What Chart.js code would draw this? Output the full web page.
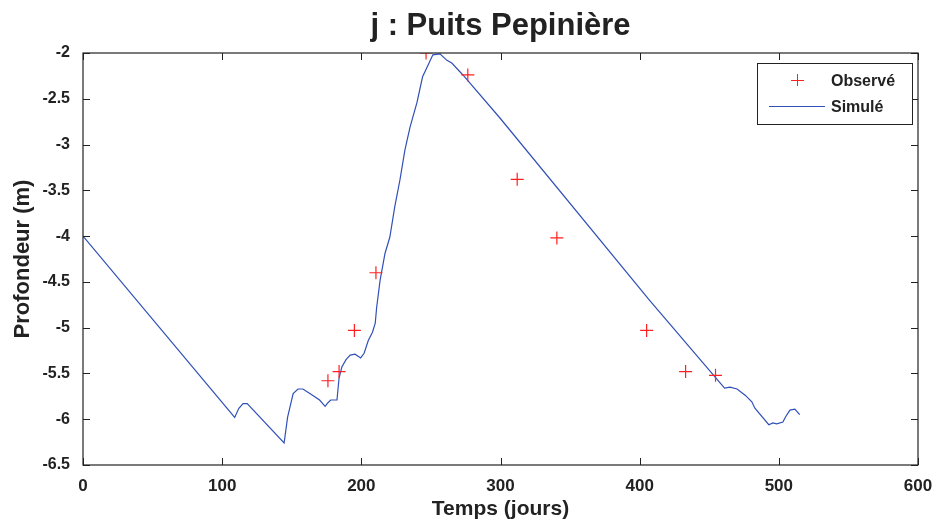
<!DOCTYPE html>
<html>
<head>
<meta charset="utf-8">
<script src="https://cdn.jsdelivr.net/npm/chart.js@4.4.0/dist/chart.umd.min.js"></script>
<style>
  body { margin: 0; background: #fff; }
  #wrap { width: 937px; height: 526px; }
</style>
</head>
<body>
<div id="wrap"><canvas id="puits"></canvas></div>
<script>
// observed depths (days, metres)
var obsDays  = [176, 184, 195, 210.5, 246.5, 276.5, 312, 340.5, 405, 433, 454.5];
var obsDepth = [-5.58, -5.48, -5.03, -4.40, -2.00, -2.24, -3.38, -4.02, -5.03, -5.48, -5.52];

// simulated curve
var simDays  = [0, 109, 112, 115, 118, 144.5, 147, 151, 154.5, 158, 163, 170, 174, 176, 178, 182.5,
                184, 186, 189, 192, 195.5, 199.5, 202, 205, 208, 210, 211, 213.5, 217, 220.5, 224,
                227.7, 231.3, 235, 240, 244, 248, 251.4, 256.5, 261.5, 265, 273, 299.6, 407, 461,
                465, 470, 476, 480.6, 482.8, 492.8, 495.7, 498.5, 502.9, 505, 508, 511.5, 515];
var simDepth = [-4.00, -5.98, -5.88, -5.83, -5.83, -6.26, -5.98, -5.72, -5.67, -5.67, -5.72, -5.79, -5.86, -5.82, -5.79, -5.79,
                -5.55, -5.43, -5.35, -5.30, -5.29, -5.33, -5.28, -5.14, -5.05, -4.95, -4.78, -4.48, -4.19, -4.01, -3.68,
                -3.39, -3.06, -2.81, -2.54, -2.26, -2.13, -2.02, -2.01, -2.08, -2.11, -2.24, -2.71, -4.70, -5.66,
                -5.65, -5.67, -5.74, -5.81, -5.88, -6.06, -6.04, -6.05, -6.03, -5.97, -5.90, -5.89, -5.95];

var xTicks = [0, 100, 200, 300, 400, 500, 600];
var yTicks = [-2, -2.5, -3, -3.5, -4, -4.5, -5, -5.5, -6, -6.5];

var obsColor = '#ff2020';
var simColor = '#3050b8';
var fontName = '"Liberation Sans", Arial, sans-serif';

function pairs(xs, ys) {
  return xs.map(function (x, i) { return {x: x, y: ys[i]}; });
}

// matlab style box with inward ticks, title over the axes, legend inside
var boxPlugin = {
  id: 'box',
  afterDraw: function (chart) {
    var ctx = chart.ctx, a = chart.chartArea;
    var xs = chart.scales.x, ys = chart.scales.y;
    ctx.save();
    ctx.strokeStyle = '#222';
    ctx.lineWidth = 1.2;
    ctx.strokeRect(a.left, a.top, a.right - a.left, a.bottom - a.top);
    ctx.lineWidth = 1;
    ctx.beginPath();
    xTicks.forEach(function (v) {
      var px = Math.round(xs.getPixelForValue(v)) + 0.5;
      ctx.moveTo(px, a.bottom); ctx.lineTo(px, a.bottom - 7);
      ctx.moveTo(px, a.top); ctx.lineTo(px, a.top + 7);
    });
    yTicks.forEach(function (v) {
      var py = Math.round(ys.getPixelForValue(v)) + 0.5;
      ctx.moveTo(a.left, py); ctx.lineTo(a.left + 7, py);
      ctx.moveTo(a.right, py); ctx.lineTo(a.right - 7, py);
    });
    ctx.stroke();

    // title
    ctx.fillStyle = '#222';
    ctx.font = 'bold 31px ' + fontName;
    ctx.textAlign = 'center';
    ctx.textBaseline = 'alphabetic';
    ctx.fillText('j : Puits Pepinière', (a.left + a.right) / 2, 35);

    // legend
    var lx = a.right - 161, ly = a.top + 10, lw = 155, lh = 61;
    ctx.fillStyle = '#fff';
    ctx.fillRect(lx, ly, lw, lh);
    ctx.strokeStyle = '#222';
    ctx.strokeRect(lx + 0.5, ly + 0.5, lw, lh);
    ctx.strokeStyle = obsColor;
    ctx.beginPath();
    ctx.moveTo(lx + 40.5, ly + 11); ctx.lineTo(lx + 40.5, ly + 23);
    ctx.moveTo(lx + 34, ly + 17.5); ctx.lineTo(lx + 47, ly + 17.5);
    ctx.stroke();
    ctx.strokeStyle = simColor;
    ctx.beginPath();
    ctx.moveTo(lx + 12, ly + 43.5); ctx.lineTo(lx + 68, ly + 43.5);
    ctx.stroke();
    ctx.fillStyle = '#222';
    ctx.font = 'bold 16px ' + fontName;
    ctx.textAlign = 'left';
    ctx.textBaseline = 'middle';
    ctx.fillText('Observé', lx + 74, ly + 19);
    ctx.fillText('Simulé', lx + 74, ly + 45);
    ctx.restore();
  }
};

var ctx_puits = document.getElementById('puits').getContext('2d');
var puitsChart = new Chart(ctx_puits, {
  type: 'scatter',
  data: {
    datasets: [
      {
        label: 'Observé',
        data: pairs(obsDays, obsDepth),
        pointStyle: 'cross',
        pointRadius: 6.5,
        borderColor: obsColor,
        borderWidth: 1.2,
        showLine: false
      },
      {
        label: 'Simulé',
        data: pairs(simDays, simDepth),
        showLine: true,
        borderColor: simColor,
        borderWidth: 1.2,
        pointRadius: 0,
        tension: 0
      }
    ]
  },
  options: {
    responsive: true,
    maintainAspectRatio: false,
    animation: false,
    layout: { padding: { top: 53, right: 19, bottom: 0, left: 0 } },
    plugins: {
      legend: { display: false },
      tooltip: { enabled: false },
      title: { display: false }
    },
    scales: {
      x: {
        type: 'linear',
        min: 0, max: 600,
        afterBuildTicks: function (s) { s.ticks = xTicks.map(function (v) { return {value: v}; }); },
        afterFit: function (s) { s.height = 61; },
        grid: { display: false },
        border: { display: false },
        ticks: {
          color: '#222', padding: 3,
          font: { family: fontName, size: 17, weight: 'bold' }
        },
        title: {
          display: true, text: 'Temps (jours)', color: '#222', padding: { top: 1 },
          font: { family: fontName, size: 21, weight: 'bold' }
        }
      },
      y: {
        min: -6.5, max: -2,
        afterBuildTicks: function (s) { s.ticks = yTicks.map(function (v) { return {value: v}; }); },
        afterFit: function (s) { s.width = 83; },
        grid: { display: false },
        border: { display: false },
        ticks: {
          color: '#222', padding: 5,
          font: { family: fontName, size: 16, weight: 'bold' },
          callback: function (v) { return String(v); }
        },
        title: {
          display: true, text: 'Profondeur (m)', color: '#222', padding: { top: 10, bottom: 4 },
          font: { family: fontName, size: 22, weight: 'bold' }
        }
      }
    }
  },
  plugins: [boxPlugin]
});
</script>
</body>
</html>
